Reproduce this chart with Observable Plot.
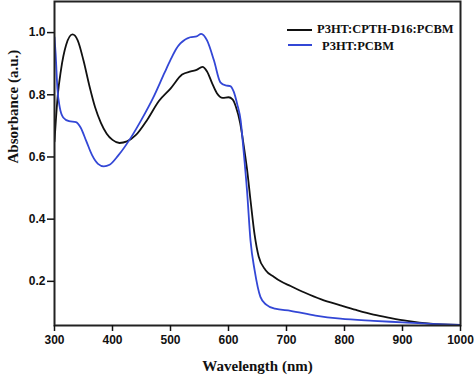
<!DOCTYPE html>
<html><head><meta charset="utf-8">
<script src="https://cdn.jsdelivr.net/npm/d3@7"></script>
<script src="https://cdn.jsdelivr.net/npm/@observablehq/plot@0.6"></script>
<style>
body{margin:0;background:#fff;}
#wrap{position:relative;width:474px;height:376px;}
.leg{position:absolute;font-family:"Liberation Serif","Times New Roman",serif;font-weight:bold;font-size:12.5px;color:#111;line-height:14px;white-space:nowrap;}
.legline{position:absolute;height:0;border-top:2px solid;}
</style></head><body><div id="wrap"></div>
<script>
const seriesNames = ["P3HT:CPTH-D16:PCBM", "P3HT:PCBM"];
const seriesColors = ["#111111", "#3347d6"];
const xTicks = [300, 400, 500, 600, 700, 800, 900, 1000];
const yTicks = [0.2, 0.4, 0.6, 0.8, 1.0];
const xLabel = "Wavelength (nm)";
const yLabel = "Absorbance (a.u.)";

const wavelengthA = [300,305.7,311,320,331,340,350,360,370,380,390,400,412,425,440,460,480,500,520,535,545,555,563,572,580,590,600,607,613,620,626,632,638,645,652,664,678,690,707,730,760,793,820,850,880,908,948,1000];
const absorbanceA = [0.65,0.80,0.878,0.96,0.994,0.975,0.91,0.83,0.76,0.71,0.675,0.655,0.645,0.65,0.67,0.72,0.78,0.82,0.865,0.875,0.88,0.89,0.875,0.836,0.805,0.79,0.792,0.785,0.76,0.71,0.64,0.56,0.46,0.35,0.28,0.236,0.215,0.2,0.185,0.165,0.142,0.123,0.108,0.093,0.082,0.073,0.064,0.06];

const wavelengthB = [300,302,305,309,315,325,337,345,355,365,375,385,395,410,432,450,470,490,500,510,517,534,545,553,563,575,586,595,603,609,615,621,626,632,638,645,655,665,680,707,750,793,850,900,948,1000];
const absorbanceB = [0.985,0.93,0.82,0.76,0.727,0.715,0.712,0.695,0.65,0.605,0.578,0.57,0.575,0.605,0.663,0.72,0.79,0.872,0.912,0.948,0.965,0.985,0.988,0.996,0.975,0.91,0.84,0.83,0.828,0.81,0.77,0.717,0.62,0.49,0.33,0.236,0.15,0.125,0.112,0.105,0.09,0.08,0.073,0.068,0.063,0.06];

const data = [
  ...wavelengthA.map((w, i) => ({series: seriesNames[0], w, a: absorbanceA[i]})),
  ...wavelengthB.map((w, i) => ({series: seriesNames[1], w, a: absorbanceB[i]}))
];

const serif = "Liberation Serif, Times New Roman, serif";
const chart = Plot.plot({
  width: 474, height: 376,
  marginLeft: 54, marginRight: 14, marginTop: 1, marginBottom: 51,
  x: {domain: [300, 1000]},
  y: {domain: [0.058, 1.1]},
  color: {domain: seriesNames, range: seriesColors},
  style: {fontFamily: "Liberation Sans, Arial, sans-serif", fontWeight: "bold", fontSize: "12px", color: "#111", background: "#fff"},
  marks: [
    Plot.lineY(data, {x: "w", y: "a", z: "series", stroke: "series", strokeWidth: 1.8, curve: "monotone-x", clip: true}),
    Plot.frame({stroke: "#222", strokeWidth: 2}),
    Plot.axisX({ticks: xTicks, tickSize: 6, tickPadding: 4, tickFormat: d => String(d), label: null, strokeWidth: 1.5}),
    Plot.axisY({ticks: yTicks, tickSize: 7, tickPadding: 2, tickFormat: d3.format(".1f"), label: null, strokeWidth: 1.5}),
    Plot.text([xLabel], {text: d => d, frameAnchor: "bottom", dy: 41, lineAnchor: "middle", fontFamily: serif, fontWeight: "bold", fontSize: 15, fill: "#111"}),
    Plot.text([yLabel], {text: d => d, frameAnchor: "left", dx: -41.5, rotate: -90, lineAnchor: "middle", fontFamily: serif, fontWeight: "bold", fontSize: 15, fill: "#111"})
  ]
});
const wrap = document.getElementById("wrap");
wrap.appendChild(chart);

const legendPos = [{lx: 287, lw: 25, ly: 29, tx: 317, ty: 22}, {lx: 288, lw: 24, ly: 44, tx: 322, ty: 39}];
seriesNames.forEach((name, i) => {
  const p = legendPos[i];
  const ln = document.createElement("div");
  ln.className = "legline";
  ln.style.left = p.lx + "px"; ln.style.top = p.ly + "px"; ln.style.width = p.lw + "px";
  ln.style.borderColor = seriesColors[i];
  wrap.appendChild(ln);
  const t = document.createElement("div");
  t.className = "leg";
  t.style.left = p.tx + "px"; t.style.top = p.ty + "px";
  t.textContent = name;
  wrap.appendChild(t);
});
</script>
</body></html>
